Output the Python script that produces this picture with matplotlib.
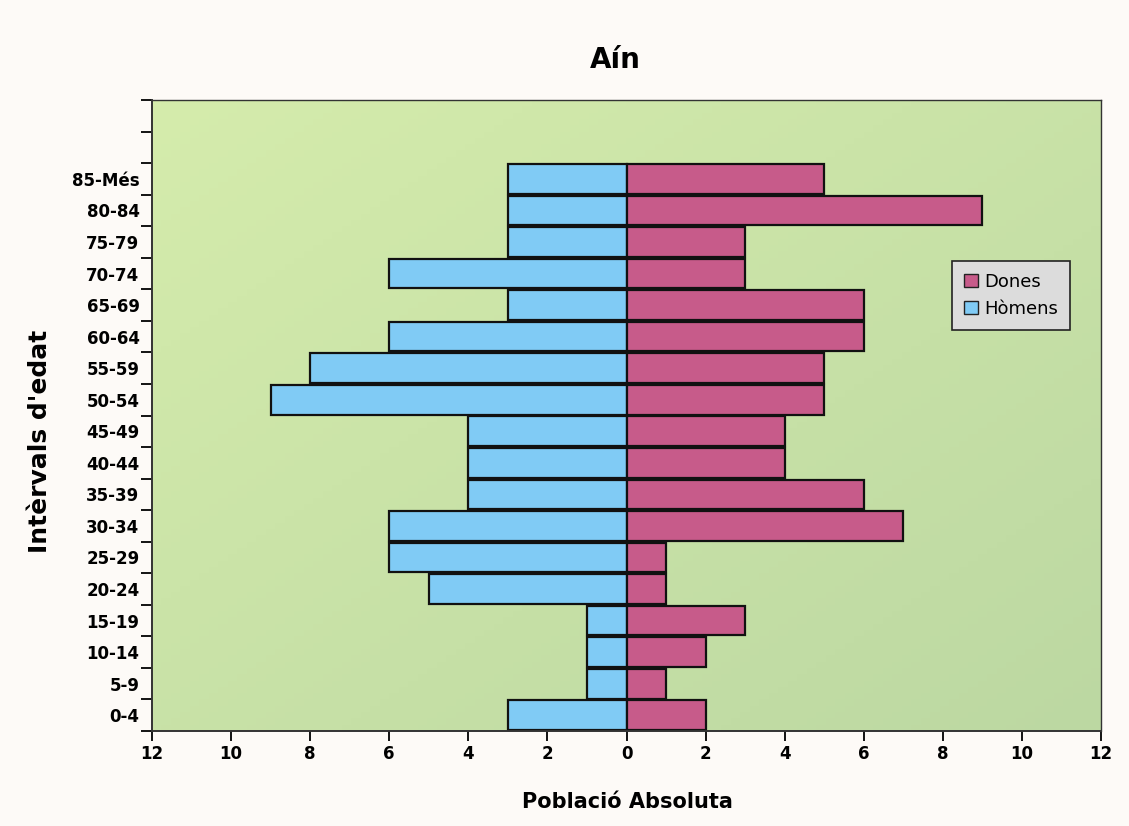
import matplotlib
matplotlib.use("Agg")
import matplotlib.pyplot as plt
import numpy as np
from matplotlib.patches import Patch

categories = ["0-4", "5-9", "10-14", "15-19", "20-24", "25-29", "30-34", "35-39",
              "40-44", "45-49", "50-54", "55-59", "60-64", "65-69", "70-74",
              "75-79", "80-84", "85-Més"]
homens = [3, 1, 1, 1, 5, 6, 6, 4, 4, 4, 9, 8, 6, 3, 6, 3, 3, 3]
dones = [2, 1, 2, 3, 1, 1, 7, 6, 4, 4, 5, 5, 6, 6, 3, 3, 9, 5]
xticks = [-12, -10, -8, -6, -4, -2, 0, 2, 4, 6, 8, 10, 12]
xticklabels = ["12", "10", "8", "6", "4", "2", "0", "2", "4", "6", "8", "10", "12"]

FONT = "DejaVu Sans"
fig = plt.figure(figsize=(11.29, 8.26), dpi=100, facecolor="#fdfaf7")
ax = fig.add_axes([152/1129, 1-731/826, (1101-152)/1129, (731-100)/826])

# gradient background: light at top-left, darker at bottom-right
ny, nx = 100, 100
yy, xx = np.mgrid[0:1:ny*1j, 0:1:nx*1j]
t = (xx + yy) / 2.0
c0 = np.array([0xd5, 0xec, 0xac]) / 255.0
c1 = np.array([0xbc, 0xd8, 0xa2]) / 255.0
img = c0[None, None, :] * (1 - t[..., None]) + c1[None, None, :] * t[..., None]
ax.imshow(img, extent=[-12, 12, -0.5, 19.5], aspect="auto", zorder=0, origin="upper")

y = np.arange(len(categories))
ax.barh(y, [-v for v in homens], height=0.94, color="#80cbf5", edgecolor="#111111",
        linewidth=1.6, zorder=2)
ax.barh(y, dones, height=0.94, color="#c75b8a", edgecolor="#111111",
        linewidth=1.6, zorder=2)

ax.set_xlim(-12, 12)
ax.set_ylim(-0.5, 19.5)
ax.set_xticks(xticks)
ax.set_xticklabels(xticklabels, fontfamily=FONT, fontweight="bold", fontsize=12)
ax.set_yticks(np.arange(-0.5, 20, 1.0))
ax.set_yticklabels([])
ax.set_yticks(y, minor=True)
ax.set_yticklabels(categories, minor=True, fontfamily=FONT, fontweight="bold", fontsize=12)
ax.tick_params(axis="y", which="minor", length=0, pad=9)
ax.tick_params(axis="y", which="major", length=8, width=1.3, direction="out")
ax.tick_params(axis="x", length=7, width=1.3, direction="out", pad=3)
for s in ax.spines.values():
    s.set_linewidth(1.0)
    s.set_color("#333333")
ax.spines["left"].set_linewidth(1.4)
ax.spines["bottom"].set_linewidth(1.4)

fig.text(615/1129, 1-60/826, "Aín", ha="center", va="center", fontfamily=FONT,
         fontweight="bold", fontsize=20)
fig.text(627/1129, 1-802/826, "Població Absoluta", ha="center", va="center",
         fontfamily=FONT, fontweight="bold", fontsize=15)
fig.text(40/1129, 1-441/826, "Intèrvals d'edat", ha="center", va="center",
         rotation=90, fontfamily=FONT, fontweight="bold", fontsize=18)

handles = [Patch(facecolor="#c75b8a", edgecolor="#222222", label="Dones"),
           Patch(facecolor="#80cbf5", edgecolor="#222222", label="Hòmens")]
leg = fig.legend(handles=handles, loc="upper left",
                 bbox_to_anchor=(952/1129, 1-261/826), frameon=True, fancybox=False,
                 prop={"family": "DejaVu Sans", "size": 13}, handlelength=0.8,
                 handleheight=0.8, handletextpad=0.35, borderpad=0.65, labelspacing=0.5,
                 borderaxespad=0)
leg.get_frame().set_facecolor("#dcdcdc")
leg.get_frame().set_edgecolor("#222222")
leg.get_frame().set_linewidth(1.2)
leg.get_frame().set_alpha(1)

fig.savefig("out.png", dpi=100, facecolor=fig.get_facecolor())
